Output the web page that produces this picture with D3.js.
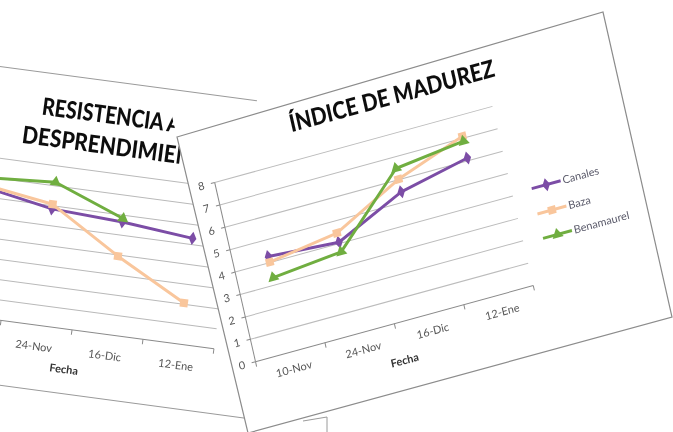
<!DOCTYPE html>
<html><head><meta charset="utf-8">
<script src="https://cdn.jsdelivr.net/npm/d3@7"></script>
<style>body{margin:0;background:#fff}svg{display:block}</style>
</head><body>
<svg id="c" width="673" height="432"></svg>
<script>
// ---- data ----
const fechas = ["10-Nov", "24-Nov", "16-Dic", "12-Ene"];
const seriesNames = ["Canales", "Baza", "Benamaurel"];
const madurezCanales = [4.27, 4.06, 5.46, 6.12];
const madurezBaza = [4.02, 4.47, 6.02, 7.09];
const madurezBenamaurel = [3.33, 3.63, 6.50, 6.87];
const resistCanales = [6.49, 5.84, 5.66, 5.31];
const resistBaza = [6.60, 6.07, 3.94, 2.06];
const resistBenamaurel = [6.94, 7.18, 5.83, null];
const madurezTicks = [0, 1, 2, 3, 4, 5, 6, 7, 8];
const resistTicks = [0, 1, 2, 3, 4, 5, 6, 7, 8];
const colors = ["#7B4DA6", "#F9C69C", "#70AE40"];
const symbols = [d3.symbolDiamond, d3.symbolSquare, d3.symbolTriangle];
const symSizes = [52, 64, 56];

const svg = d3.select("#c");
const defs = svg.append("defs");
defs.append("filter").attr("id", "soft").append("feGaussianBlur").attr("stdDeviation", 0.6);
// region of the back sheet not covered by the front sheet (extension of its left edge)
defs.append("clipPath").attr("id", "backClip").append("polygon")
  .attr("points", "0,0 144,0 177,137 248,433 0,432");

const scene = svg.append("g").attr("filter", "url(#soft)");
scene.append("rect").attr("width", 673).attr("height", 432).attr("fill", "#fff");

function drawLines(g, x, y, data) {
  const bw = x.bandwidth();
  data.forEach((vals, s) => {
    const line = d3.line().defined(d => d != null)
      .x((d, i) => x(fechas[i]) + bw / 2).y(d => y(d));
    g.append("path").datum(vals).attr("d", line).attr("fill", "none")
      .attr("stroke", colors[s]).attr("stroke-width", 3).attr("stroke-linejoin", "round");
    g.selectAll(null).data(vals.map((v, i) => ({v, i})).filter(d => d.v != null)).join("path")
      .attr("transform", d => `translate(${x(fechas[d.i]) + bw / 2},${y(d.v)})`)
      .attr("d", d3.symbol(symbols[s], symSizes[s])).attr("fill", colors[s]);
  });
}

// ---------------- back sheet: RESISTENCIA AL DESPRENDIMIENTO ----------------
const back = scene.append("g").attr("transform", "rotate(7.6)");
back.append("line").attr("x1", 0).attr("x2", 268).attr("y1", 66).attr("y2", 66)
  .attr("stroke", "#9a9a9a").attr("stroke-width", 1);
back.append("line").attr("x1", -80).attr("x2", 310).attr("y1", 382).attr("y2", 382)
  .attr("stroke", "#9a9a9a").attr("stroke-width", 1);
const backC = scene.append("g").attr("clip-path", "url(#backClip)")
  .append("g").attr("transform", "rotate(7.6)");
const xB = d3.scaleBand().domain(fechas).range([-28.2, 258.2]);
const yB = d3.scaleLinear().domain([0, 8]).range([317.4, 156.8]);
backC.append("g").selectAll("line").data(resistTicks).join("line")
  .attr("x1", -28.2).attr("x2", 258.2).attr("y1", d => yB(d)).attr("y2", d => yB(d))
  .attr("stroke", d => d === 0 ? "#8a8a8a" : "#b9b9b9").attr("stroke-width", 1);
backC.append("g").selectAll("line").data(fechas.slice(1).concat(["end"])).join("line")
  .attr("x1", (d, i) => xB.range()[0] + (i + 1) * xB.bandwidth())
  .attr("x2", (d, i) => xB.range()[0] + (i + 1) * xB.bandwidth())
  .attr("y1", yB(0)).attr("y2", yB(0) + 5).attr("stroke", "#8a8a8a");
backC.append("g").selectAll("text").data(fechas.slice(1)).join("text")
  .attr("x", d => xB(d) + xB.bandwidth() / 2).attr("y", yB(0) + 25)
  .attr("text-anchor", "middle").attr("font-family", "Lato, 'Noto Sans', sans-serif")
  .attr("font-size", 11).attr("fill", "#555").text(d => d);
backC.append("text").attr("x", (xB.range()[0] + xB.range()[1]) / 2 - 3).attr("y", yB(0) + 44)
  .attr("text-anchor", "middle").attr("font-family", "Lato, 'Noto Sans', sans-serif")
  .attr("font-weight", "bold").attr("font-size", 11).attr("fill", "#333").text("Fecha");
drawLines(backC, xB, yB, [resistCanales, resistBaza, resistBenamaurel]);
const backTitle = ["RESISTENCIA AL", "DESPRENDIMIENTO"];
const backTitleLen = [150, 200];
const backTitleX = [131, 140];
backC.append("g").selectAll("text").data(backTitle).join("text")
  .attr("x", (d, i) => backTitleX[i]).attr("y", (d, i) => 108 + i * 30.6)
  .attr("text-anchor", "middle").attr("font-family", "Lato, 'Open Sans', sans-serif")
  .attr("font-weight", "900").attr("font-size", 24).attr("fill", "#111")
  .attr("textLength", (d, i) => backTitleLen[i]).attr("lengthAdjust", "spacingAndGlyphs")
  .text(d => d);

// small edge of another sheet under the front one
scene.append("polyline").attr("points", "303,421 327,417 327,432")
  .attr("fill", "none").attr("stroke", "#9a9a9a");

// ---------------- front sheet: ÍNDICE DE MADUREZ ----------------
scene.append("polygon").attr("points", "177,137 603,12 672,317 248,433")
  .attr("fill", "#fff").attr("stroke", "#8c8c8c").attr("stroke-width", 1.2);
const front = scene.append("g")
  .attr("transform", "matrix(0.9645,-0.2643,0.222,0.975,255.5,361.7)");
const xF = d3.scaleBand().domain(fechas).range([0, 288]);
const yF = d3.scaleLinear().domain([0, 8]).range([0, -183.8]);
front.append("g").selectAll("line").data(madurezTicks.slice(1)).join("line")
  .attr("x1", 0).attr("x2", 288).attr("y1", d => yF(d)).attr("y2", d => yF(d))
  .attr("stroke", "#bcbcbc").attr("stroke-width", 1);
front.append("line").attr("x1", 0).attr("x2", 288).attr("y1", 0).attr("y2", 0).attr("stroke", "#8a8a8a");
front.append("line").attr("x1", 0).attr("x2", 0).attr("y1", 0).attr("y2", yF(8)).attr("stroke", "#8a8a8a");
front.append("g").selectAll("line").data(madurezTicks).join("line")
  .attr("x1", -4).attr("x2", 0).attr("y1", d => yF(d)).attr("y2", d => yF(d)).attr("stroke", "#8a8a8a");
front.append("g").selectAll("line").data(d3.range(fechas.length + 1)).join("line")
  .attr("x1", d => d * xF.bandwidth()).attr("x2", d => d * xF.bandwidth())
  .attr("y1", 0).attr("y2", 5).attr("stroke", "#8a8a8a");
front.append("g").selectAll("text").data(madurezTicks).join("text")
  .attr("x", -14).attr("y", d => yF(d)).attr("dy", "0.35em").attr("text-anchor", "middle")
  .attr("font-family", "Lato, 'Noto Sans', sans-serif").attr("font-size", 11).attr("fill", "#555")
  .text(d => d);
front.append("g").selectAll("text").data(fechas).join("text")
  .attr("x", d => xF(d) + xF.bandwidth() / 2).attr("y", 21).attr("text-anchor", "middle")
  .attr("font-family", "Lato, 'Noto Sans', sans-serif").attr("font-size", 11).attr("fill", "#555")
  .text(d => d);
front.append("text").attr("x", 146).attr("y", 42).attr("text-anchor", "middle")
  .attr("font-family", "Lato, 'Noto Sans', sans-serif").attr("font-weight", "bold")
  .attr("font-size", 11).attr("fill", "#333").text("Fecha");
front.append("text").attr("x", 192).attr("y", -212).attr("text-anchor", "middle")
  .attr("font-family", "Lato, 'Open Sans', sans-serif").attr("font-weight", "900")
  .attr("font-size", 24).attr("fill", "#111")
  .attr("textLength", 212).attr("lengthAdjust", "spacingAndGlyphs").text("ÍNDICE DE MADUREZ");
drawLines(front, xF, yF, [madurezCanales, madurezBaza, madurezBenamaurel]);
// legend
const legY = [-94, -68, -43];
const leg = front.append("g").selectAll("g").data(seriesNames).join("g")
  .attr("transform", (d, i) => `translate(308,${legY[i]})`);
leg.append("line").attr("x1", 0).attr("x2", 30).attr("stroke", (d, i) => colors[i]).attr("stroke-width", 3);
leg.append("path").attr("transform", "translate(15,0)")
  .attr("d", (d, i) => d3.symbol(symbols[i], symSizes[i])()).attr("fill", (d, i) => colors[i]);
leg.append("text").attr("x", 32).attr("dy", "0.35em")
  .attr("font-family", "Lato, 'Noto Sans', sans-serif").attr("font-size", 11).attr("fill", "#5a5a6a")
  .text(d => d);
</script>
</body></html>
